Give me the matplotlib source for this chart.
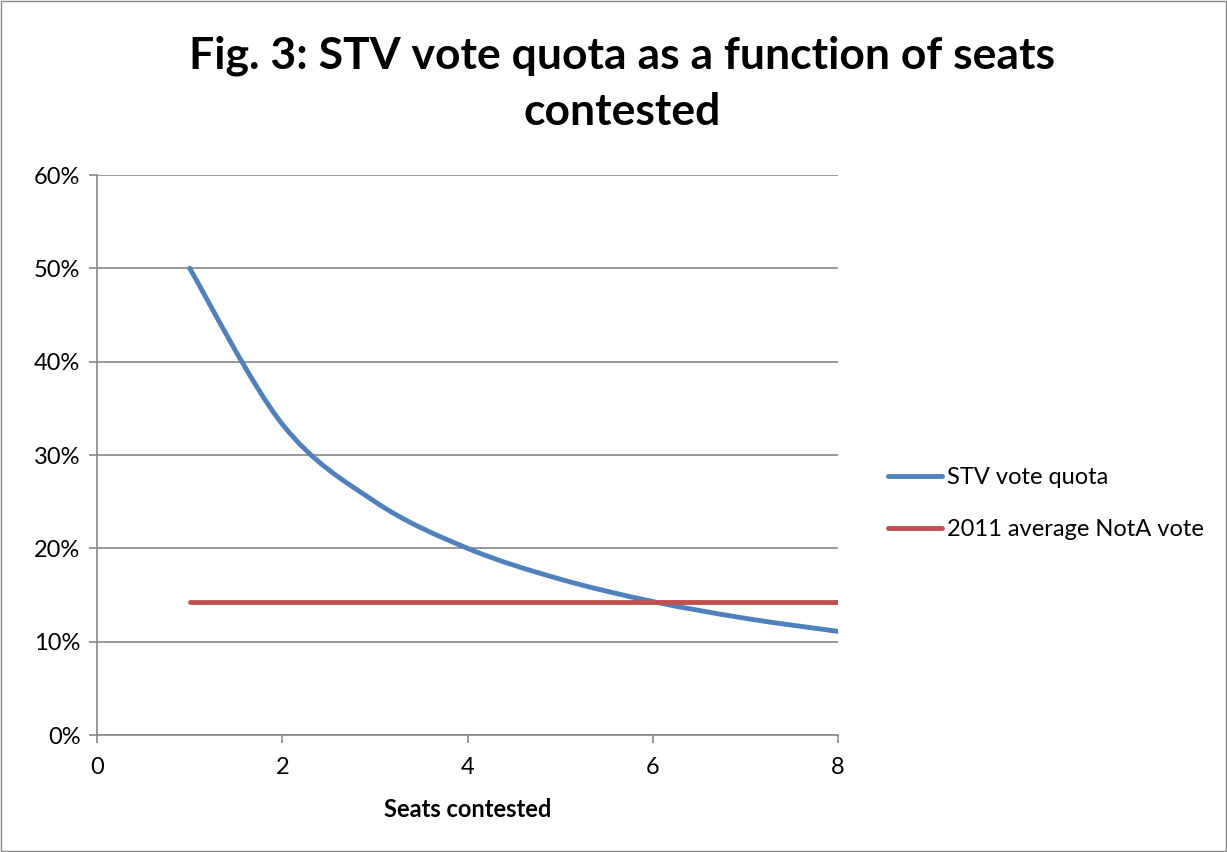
import matplotlib
matplotlib.use('Agg')
import matplotlib.pyplot as plt
from matplotlib.path import Path
from matplotlib.patches import PathPatch
from matplotlib.lines import Line2D
from matplotlib.ticker import PercentFormatter

plt.rcParams['font.family'] = ['Lato', 'DejaVu Sans']

seats = [1, 2, 3, 4, 5, 6, 7, 8]
stv_quota = [0.500, 0.333, 0.250, 0.200, 0.167, 0.143, 0.125, 0.111]
nota_vote = [0.143, 0.143, 0.143, 0.143, 0.143, 0.143, 0.143, 0.143]

BLUE = '#4F81BD'
RED = '#C0504D'
GRID = '#888888'


def smooth_path(xs, ys):
    # Excel-style smoothed line: cubic Bezier through every point
    pts = list(zip(xs, ys))
    verts = [pts[0]]
    codes = [Path.MOVETO]
    for i in range(len(pts) - 1):
        p0 = pts[i - 1] if i > 0 else pts[i]
        p1, p2 = pts[i], pts[i + 1]
        p3 = pts[i + 2] if i + 2 < len(pts) else pts[i + 1]
        c1 = (p1[0] + (p2[0] - p0[0]) / 6, p1[1] + (p2[1] - p0[1]) / 6)
        c2 = (p2[0] - (p3[0] - p1[0]) / 6, p2[1] - (p3[1] - p1[1]) / 6)
        verts += [c1, c2, p2]
        codes += [Path.CURVE4] * 3
    return Path(verts, codes)


fig = plt.figure(figsize=(12.27, 8.52), dpi=100)
ax = fig.add_axes([0.0791, 0.1373, 0.604, 0.6573])

ax.add_patch(PathPatch(smooth_path(seats, stv_quota), fill=False, edgecolor=BLUE,
                       lw=3.5, capstyle='round', zorder=3))
ax.plot(seats, nota_vote, color=RED, lw=3.5, solid_capstyle='round', zorder=3)

ax.set_xlim(0, 8)
ax.set_ylim(0, 0.6)
ax.set_xticks([0, 2, 4, 6, 8])
ax.set_yticks([0, 0.1, 0.2, 0.3, 0.4, 0.5, 0.6])
ax.yaxis.set_major_formatter(PercentFormatter(1.0, decimals=0))
ax.grid(axis='y', color=GRID, lw=1.2)
ax.set_axisbelow(True)
for s in ['top', 'right']:
    ax.spines[s].set_visible(False)
for s in ['left', 'bottom']:
    ax.spines[s].set_color(GRID)
    ax.spines[s].set_linewidth(1.2)
ax.tick_params(axis='both', colors=GRID, labelcolor='black', labelsize=17, length=6, width=1.2)
ax.tick_params(axis='x', pad=10)
ax.tick_params(axis='y', pad=6)
ax.set_xlabel('Seats contested', fontsize=17, fontweight='bold', labelpad=14)

fig.suptitle('Fig. 3: STV vote quota as a function of seats\ncontested',
             x=0.507, y=0.958, fontsize=32, fontweight='bold', linespacing=1.47)

handles = [Line2D([], [], color=BLUE, lw=3.5, solid_capstyle='round'),
           Line2D([], [], color=RED, lw=3.5, solid_capstyle='round')]
fig.legend(handles, ['STV vote quota', '2011 average NotA vote'],
           loc='center left', bbox_to_anchor=(0.706, 0.409), frameon=False,
           fontsize=17, handlelength=2.3, handletextpad=0.2, labelspacing=1.3)

fig.add_artist(plt.Rectangle((0.001, 0.001), 0.998, 0.998, transform=fig.transFigure,
                             fill=False, edgecolor='#888888', lw=1))

fig.savefig('out.png', dpi=100)
